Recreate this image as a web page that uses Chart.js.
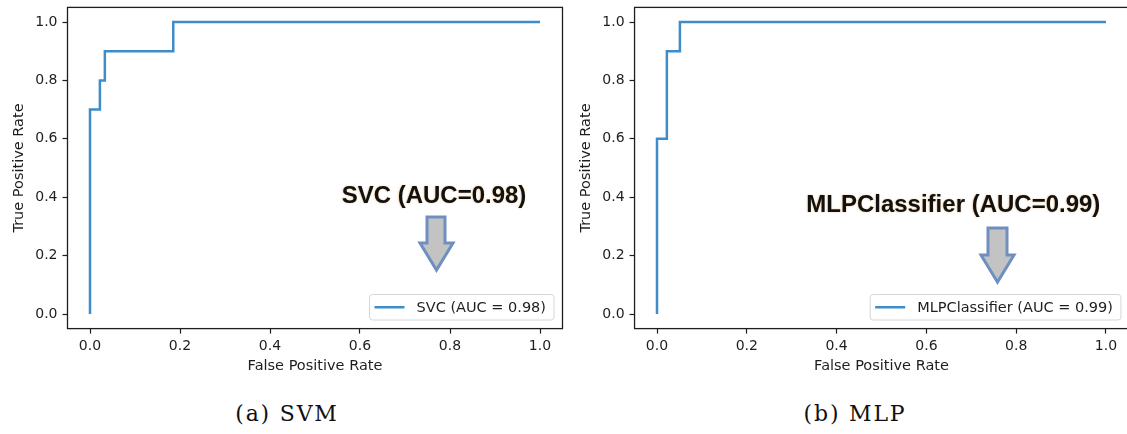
<!DOCTYPE html>
<html>
<head>
<meta charset="utf-8">
<script src="https://cdn.jsdelivr.net/npm/chart.js@4"></script>
<style>
  html, body { margin:0; padding:0; background:#fff; width:1127px; height:434px; overflow:hidden; }
  canvas { position:absolute; top:0; }
  .cap { position:absolute; width:240px; text-align:center; font-family:"DejaVu Serif", serif; font-size:22px; line-height:22px; letter-spacing:1.8px; color:#111; }
</style>
</head>
<body>
<canvas id="c1" width="570" height="390" style="left:0"></canvas>
<canvas id="c2" width="560" height="390" style="left:570px"></canvas>
<div class="cap" id="cap1" style="left:167px; top:403px"></div>
<div class="cap" id="cap2" style="left:735px; top:403px"></div>
<script>
// ---- data ----
const svcFpr = [0, 0, 0.022, 0.022, 0.033, 0.033, 0.185, 0.185, 1.0];
const svcTpr = [0, 0.7, 0.7, 0.8, 0.8, 0.9, 0.9, 1.0, 1.0];
const mlpFpr = [0, 0, 0.022, 0.022, 0.051, 0.051, 1.0];
const mlpTpr = [0, 0.6, 0.6, 0.9, 0.9, 1.0, 1.0];
const tickValues = [0, 0.2, 0.4, 0.6, 0.8, 1.0];
const tickLabels = ['0.0', '0.2', '0.4', '0.6', '0.8', '1.0'];
const seriesLabels = ['SVC (AUC = 0.98)', 'MLPClassifier (AUC = 0.99)'];
const annotationTexts = ['SVC (AUC=0.98)', 'MLPClassifier (AUC=0.99)'];
const captions = ['(a) SVM', '(b) MLP'];
const xTitle = 'False Positive Rate';
const yTitle = 'True Positive Rate';

document.getElementById('cap1').textContent = captions[0];
document.getElementById('cap2').textContent = captions[1];

const LINE = '#3f8cc8';
const INK = '#1e1e1e';
const FONT = '"DejaVu Sans", sans-serif';

const decorPlugin = {
  id: 'decor',
  afterDatasetsDraw(chart, args, o) {
    const ctx = chart.ctx, a = chart.chartArea;
    ctx.save();
    // full axes box
    ctx.strokeStyle = INK; ctx.lineWidth = 1.3;
    ctx.strokeRect(a.left, a.top, a.right - a.left, a.bottom - a.top);
    // legend
    const ds = chart.data.datasets[0];
    ctx.font = '14.5px ' + FONT;
    const tw = ctx.measureText(ds.label).width;
    const bw = 47 + tw + 8, bh = 25.5;
    const bx = a.right - o.legendRight - bw, by = a.bottom - 8.6 - bh;
    ctx.beginPath();
    ctx.roundRect(bx, by, bw, bh, 3);
    ctx.fillStyle = 'rgba(255,255,255,0.8)'; ctx.fill();
    ctx.strokeStyle = '#d6d6d6'; ctx.lineWidth = 1; ctx.stroke();
    ctx.beginPath();
    ctx.moveTo(bx + 5, by + bh / 2); ctx.lineTo(bx + 35, by + bh / 2);
    ctx.strokeStyle = ds.borderColor; ctx.lineWidth = 2.5; ctx.stroke();
    ctx.fillStyle = INK; ctx.textAlign = 'left'; ctx.textBaseline = 'middle';
    ctx.fillText(ds.label, bx + 47, by + bh / 2 + 0.5);
    // annotation text
    const an = o.ann;
    ctx.font = 'bold 24px "Liberation Sans", Arial, sans-serif';
    ctx.textAlign = 'center'; ctx.textBaseline = 'alphabetic';
    ctx.shadowColor = 'rgba(220,140,40,0.55)'; ctx.shadowBlur = 2; ctx.shadowOffsetX = -0.5; ctx.shadowOffsetY = 0;
    ctx.fillStyle = '#111';
    ctx.fillText(an.text, an.tx, an.ty);
    ctx.shadowColor = 'transparent';
    // arrow
    const r = an.arrow;
    ctx.beginPath();
    ctx.moveTo(r.sl, r.top); ctx.lineTo(r.sr, r.top); ctx.lineTo(r.sr, r.hy);
    ctx.lineTo(r.hr, r.hy); ctx.lineTo(r.tx, r.ty); ctx.lineTo(r.hl, r.hy);
    ctx.lineTo(r.sl, r.hy); ctx.closePath();
    ctx.fillStyle = '#c3c3c3'; ctx.fill();
    ctx.strokeStyle = '#6f8fbf'; ctx.lineWidth = 3; ctx.lineJoin = 'miter'; ctx.stroke();
    ctx.restore();
  }
};

function makeChart(id, fpr, tpr, label, cfg) {
  const pts = fpr.map((x, i) => ({ x: x, y: tpr[i] }));
  const tickSetter = s => { s.ticks = tickValues.map(v => ({ value: v })); };
  const fmt = (v) => { const i = tickValues.indexOf(v); return i >= 0 ? tickLabels[i] : ''; };
  return new Chart(document.getElementById(id), {
    type: 'scatter',
    data: { datasets: [{ label: label, data: pts, showLine: true, borderColor: LINE, backgroundColor: LINE,
      borderWidth: 2.5, pointRadius: 0, tension: 0, fill: false, clip: false }] },
    options: {
      responsive: false, animation: false, devicePixelRatio: 1,
      layout: { padding: { left: 0, top: 7.4, right: cfg.padRight, bottom: 11.4 } },
      plugins: { legend: { display: false }, tooltip: { enabled: false },
        decor: { legendRight: cfg.legendRight, ann: cfg.ann } },
      scales: {
        x: {
          type: 'linear', min: -0.05, max: 1.05,
          afterBuildTicks: tickSetter,
          afterFit: s => { s.height = 50; s.paddingLeft = 0; s.paddingRight = 0; s.paddingTop = 0; s.paddingBottom = 0; },
          ticks: { callback: fmt, color: INK, font: { family: FONT, size: 14 }, padding: 4.3, maxRotation: 0, autoSkip: false },
          grid: { display: true, drawOnChartArea: false, drawTicks: true, tickLength: 5, tickColor: INK, tickWidth: 1.2 },
          border: { display: false },
          title: { display: true, text: xTitle, color: INK, font: { family: FONT, size: 14.5 }, padding: { top: 0, bottom: 3.3 } }
        },
        y: {
          type: 'linear', min: -0.05, max: 1.05,
          afterBuildTicks: tickSetter,
          afterFit: s => { s.width = cfg.yWidth; s.paddingLeft = 0; s.paddingRight = 0; s.paddingTop = 0; s.paddingBottom = 0; },
          ticks: { callback: fmt, color: INK, font: { family: FONT, size: 14 }, padding: 5, autoSkip: false },
          grid: { display: true, drawOnChartArea: false, drawTicks: true, tickLength: 5, tickColor: INK, tickWidth: 1.2 },
          border: { display: false },
          title: { display: true, text: yTitle, color: INK, font: { family: FONT, size: 14.5 }, padding: { top: cfg.yTitlePad, bottom: 0 } }
        }
      }
    },
    plugins: [decorPlugin]
  });
}

makeChart('c1', svcFpr, svcTpr, seriesLabels[0], {
  yWidth: 67.5, padRight: 7.5, yTitlePad: 10.6, legendRight: 8.5,
  ann: { text: annotationTexts[0], tx: 434, ty: 203,
    arrow: { sl: 427, sr: 445, top: 217, hy: 243, hl: 420, hr: 453, tx: 436.5, ty: 270 } }
});
makeChart('c2', mlpFpr, mlpTpr, seriesLabels[1], {
  yWidth: 64.55, padRight: 1.55, yTitlePad: 7.1, legendRight: 7.5,
  ann: { text: annotationTexts[1], tx: 383.3, ty: 212,
    arrow: { sl: 418, sr: 437, top: 228, hy: 255, hl: 411, hr: 444, tx: 427.5, ty: 282 } }
});
</script>
</body>
</html>
